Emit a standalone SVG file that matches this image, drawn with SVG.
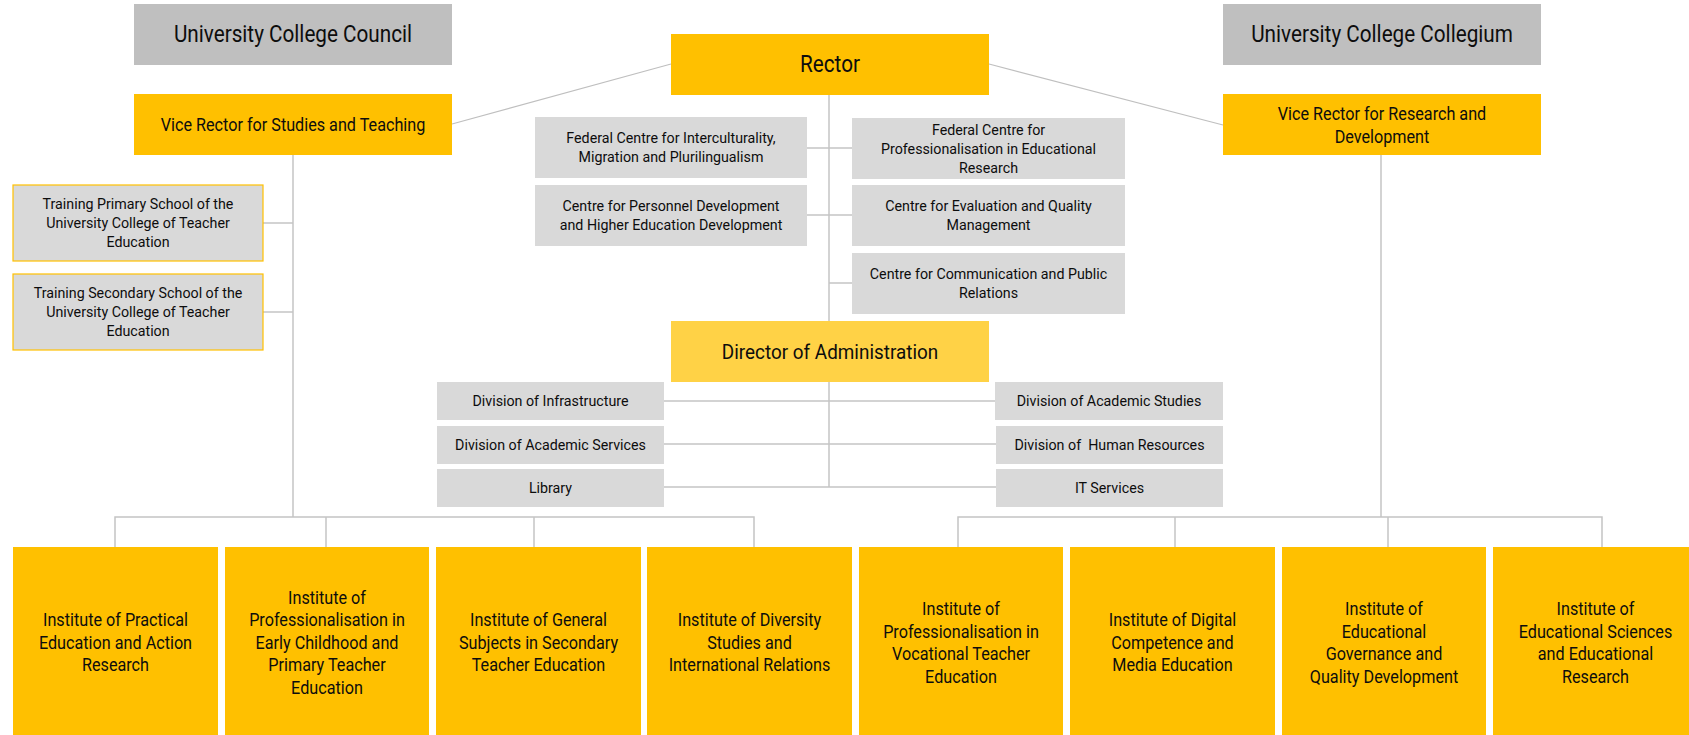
<svg xmlns="http://www.w3.org/2000/svg" width="1689" height="735" viewBox="0 0 1689 735">
<style>
  .hd{fill:#bfbfbf}
  .gold{fill:#ffc000}
  .dir{fill:#ffd246}
  .gr{fill:#d9d9d9}
  .tr{fill:#d9d9d9;stroke:#ffc000;stroke-width:1.2}
  text{font-family:"Roboto","Liberation Sans",sans-serif;fill:#0d0d0d;text-anchor:middle}
  .t23{font-size:23px}
  .t21{font-size:21px}
  .t18{font-size:18px}
  .t15{font-size:15.5px}
  .ln{stroke:#c4c4c4;stroke-width:1.5;fill:none}
  .ln1{stroke:#bfbfbf;stroke-width:1.2;fill:none}
</style>
<rect width="1689" height="735" fill="#ffffff"/>
<g id="connectors">
  <line class="ln1" x1="671" y1="64" x2="452" y2="124"/>
  <line class="ln1" x1="989" y1="64" x2="1223" y2="125"/>
  <line class="ln" x1="829" y1="95" x2="829" y2="321"/>
  <line class="ln" x1="807" y1="148" x2="852" y2="148"/>
  <line class="ln" x1="807" y1="215" x2="852" y2="215"/>
  <line class="ln" x1="829" y1="283" x2="852" y2="283"/>
  <line class="ln" x1="293" y1="155" x2="293" y2="517"/>
  <line class="ln" x1="263" y1="223" x2="293" y2="223"/>
  <line class="ln" x1="263" y1="312" x2="293" y2="312"/>
  <polyline class="ln" points="115,547 115,517 754,517 754,547"/>
  <line class="ln" x1="326" y1="517" x2="326" y2="547"/>
  <line class="ln" x1="534" y1="517" x2="534" y2="547"/>
  <line class="ln" x1="1381" y1="155" x2="1381" y2="517"/>
  <polyline class="ln" points="958,547 958,517 1602,517 1602,547"/>
  <line class="ln" x1="1175" y1="517" x2="1175" y2="547"/>
  <line class="ln" x1="1388" y1="517" x2="1388" y2="547"/>
  <line class="ln" x1="829" y1="382" x2="829" y2="487"/>
  <line class="ln" x1="664" y1="401" x2="995" y2="401"/>
  <line class="ln" x1="664" y1="444" x2="996" y2="444"/>
  <line class="ln" x1="664" y1="487" x2="996" y2="487"/>
</g>
<g id="council"><rect class="hd" x="134" y="4" width="318" height="61"/>
  <text class="t23" transform="translate(293 0) scale(0.9 1)"><tspan x="0" y="42.5">University College Council</tspan></text></g>
<g id="collegium"><rect class="hd" x="1223" y="4" width="318" height="61"/>
  <text class="t23" transform="translate(1382 0) scale(0.9 1)"><tspan x="0" y="42.5">University College Collegium</tspan></text></g>
<g id="rector"><rect class="gold" x="671" y="34" width="318" height="61"/>
  <text class="t23" transform="translate(830 0) scale(0.9 1)"><tspan x="0" y="72.5">Rector</tspan></text></g>
<g id="vr-studies"><rect class="gold" x="134" y="94" width="318" height="61"/>
  <text class="t18" transform="translate(293 0) scale(0.9 1)"><tspan x="0" y="131">Vice Rector for Studies and Teaching</tspan></text></g>
<g id="vr-research"><rect class="gold" x="1223" y="94" width="318" height="61"/>
  <text class="t18" transform="translate(1382 0) scale(0.9 1)"><tspan x="0" y="120">Vice Rector for Research and</tspan><tspan x="0" y="143">Development</tspan></text></g>
<g id="director"><rect class="dir" x="671" y="321" width="318" height="61"/>
  <text class="t21" transform="translate(830 0) scale(0.9 1)"><tspan x="0" y="359">Director of Administration</tspan></text></g>
<g id="fc-intercult"><rect class="gr" x="535" y="117" width="272" height="61"/>
  <text class="t15" transform="translate(671 0) scale(0.92 1)"><tspan x="0" y="143.3">Federal Centre for Interculturality,</tspan><tspan x="0" y="162.3">Migration and Plurilingualism</tspan></text></g>
<g id="c-personnel"><rect class="gr" x="535" y="185" width="272" height="61"/>
  <text class="t15" transform="translate(671 0) scale(0.92 1)"><tspan x="0" y="211.3">Centre for Personnel Development</tspan><tspan x="0" y="230.3">and Higher Education Development</tspan></text></g>
<g id="fc-prof"><rect class="gr" x="852" y="118" width="273" height="61"/>
  <text class="t15" transform="translate(988.5 0) scale(0.92 1)"><tspan x="0" y="134.8">Federal Centre for</tspan><tspan x="0" y="153.8">Professionalisation in Educational</tspan><tspan x="0" y="172.8">Research</tspan></text></g>
<g id="c-eval"><rect class="gr" x="852" y="185" width="273" height="61"/>
  <text class="t15" transform="translate(988.5 0) scale(0.92 1)"><tspan x="0" y="211.3">Centre for Evaluation and Quality</tspan><tspan x="0" y="230.3">Management</tspan></text></g>
<g id="c-comm"><rect class="gr" x="852" y="253" width="273" height="61"/>
  <text class="t15" transform="translate(988.5 0) scale(0.92 1)"><tspan x="0" y="279.3">Centre for Communication and Public</tspan><tspan x="0" y="298.3">Relations</tspan></text></g>
<g id="train-primary"><rect class="tr" x="13" y="185" width="250" height="76"/>
  <text class="t15" transform="translate(138 0) scale(0.92 1)"><tspan x="0" y="209.3">Training Primary School of the</tspan><tspan x="0" y="228.3">University College of Teacher</tspan><tspan x="0" y="247.3">Education</tspan></text></g>
<g id="train-secondary"><rect class="tr" x="13" y="274" width="250" height="76"/>
  <text class="t15" transform="translate(138 0) scale(0.92 1)"><tspan x="0" y="298.3">Training Secondary School of the</tspan><tspan x="0" y="317.3">University College of Teacher</tspan><tspan x="0" y="336.3">Education</tspan></text></g>
<g id="div-infra"><rect class="gr" x="437" y="382" width="227" height="38"/>
  <text class="t15" transform="translate(550.5 0) scale(0.92 1)"><tspan x="0" y="406.5">Division of Infrastructure</tspan></text></g>
<g id="div-acadserv"><rect class="gr" x="437" y="426" width="227" height="38"/>
  <text class="t15" transform="translate(550.5 0) scale(0.92 1)"><tspan x="0" y="450.5">Division of Academic Services</tspan></text></g>
<g id="library"><rect class="gr" x="437" y="469" width="227" height="38"/>
  <text class="t15" transform="translate(550.5 0) scale(0.92 1)"><tspan x="0" y="493.5">Library</tspan></text></g>
<g id="div-acadstud"><rect class="gr" x="995" y="382" width="228" height="38"/>
  <text class="t15" transform="translate(1109 0) scale(0.92 1)"><tspan x="0" y="406.5">Division of Academic Studies</tspan></text></g>
<g id="div-hr"><rect class="gr" x="996" y="426" width="227" height="38"/>
  <text class="t15" transform="translate(1109.5 0) scale(0.92 1)" xml:space="preserve"><tspan x="0" y="450.5">Division of  Human Resources</tspan></text></g>
<g id="it"><rect class="gr" x="996" y="469" width="227" height="38"/>
  <text class="t15" transform="translate(1109.5 0) scale(0.92 1)"><tspan x="0" y="493.5">IT Services</tspan></text></g>
<g id="inst-practical"><rect class="gold" x="13" y="547" width="205" height="188"/>
  <text class="t18" transform="translate(115.5 0) scale(0.9 1)"><tspan x="0" y="626.5">Institute of Practical</tspan><tspan x="0" y="649">Education and Action</tspan><tspan x="0" y="671.5">Research</tspan></text></g>
<g id="inst-early"><rect class="gold" x="225" y="547" width="204" height="188"/>
  <text class="t18" transform="translate(327 0) scale(0.9 1)"><tspan x="0" y="604">Institute of</tspan><tspan x="0" y="626.5">Professionalisation in</tspan><tspan x="0" y="649">Early Childhood and</tspan><tspan x="0" y="671.5">Primary Teacher</tspan><tspan x="0" y="694">Education</tspan></text></g>
<g id="inst-general"><rect class="gold" x="436" y="547" width="205" height="188"/>
  <text class="t18" transform="translate(538.5 0) scale(0.9 1)"><tspan x="0" y="626.5">Institute of General</tspan><tspan x="0" y="649">Subjects in Secondary</tspan><tspan x="0" y="671.5">Teacher Education</tspan></text></g>
<g id="inst-diversity"><rect class="gold" x="647" y="547" width="205" height="188"/>
  <text class="t18" transform="translate(749.5 0) scale(0.9 1)"><tspan x="0" y="626.5">Institute of Diversity</tspan><tspan x="0" y="649">Studies and</tspan><tspan x="0" y="671.5">International Relations</tspan></text></g>
<g id="inst-vocational"><rect class="gold" x="859" y="547" width="204" height="188"/>
  <text class="t18" transform="translate(961 0) scale(0.9 1)"><tspan x="0" y="615.3">Institute of</tspan><tspan x="0" y="637.8">Professionalisation in</tspan><tspan x="0" y="660.3">Vocational Teacher</tspan><tspan x="0" y="682.8">Education</tspan></text></g>
<g id="inst-digital"><rect class="gold" x="1070" y="547" width="205" height="188"/>
  <text class="t18" transform="translate(1172.5 0) scale(0.9 1)"><tspan x="0" y="626.5">Institute of Digital</tspan><tspan x="0" y="649">Competence and</tspan><tspan x="0" y="671.5">Media Education</tspan></text></g>
<g id="inst-governance"><rect class="gold" x="1282" y="547" width="204" height="188"/>
  <text class="t18" transform="translate(1384 0) scale(0.9 1)"><tspan x="0" y="615.3">Institute of</tspan><tspan x="0" y="637.8">Educational</tspan><tspan x="0" y="660.3">Governance and</tspan><tspan x="0" y="682.8">Quality Development</tspan></text></g>
<g id="inst-sciences"><rect class="gold" x="1493" y="547" width="205" height="188"/>
  <text class="t18" transform="translate(1595.5 0) scale(0.9 1)"><tspan x="0" y="615.3">Institute of</tspan><tspan x="0" y="637.8">Educational Sciences</tspan><tspan x="0" y="660.3">and Educational</tspan><tspan x="0" y="682.8">Research</tspan></text></g>
</svg>
